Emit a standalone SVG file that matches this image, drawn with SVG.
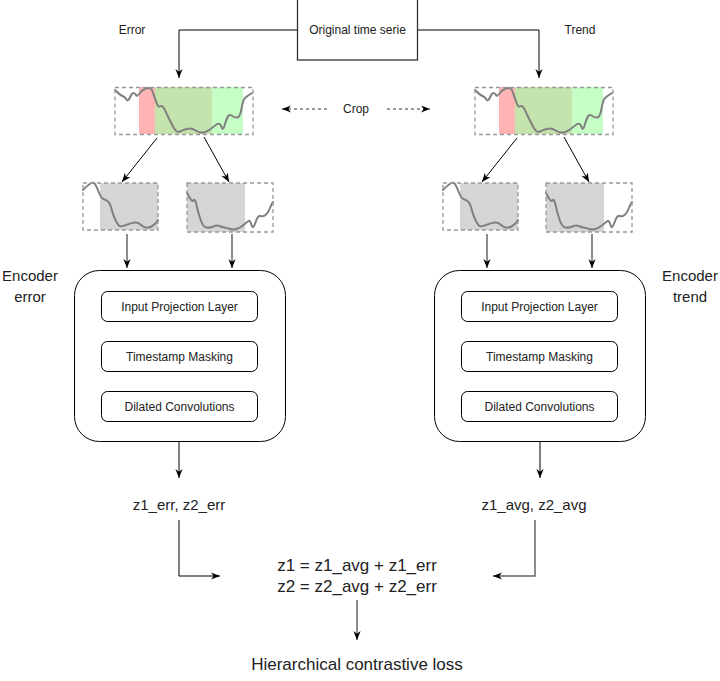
<svg xmlns="http://www.w3.org/2000/svg" xmlns:xlink="http://www.w3.org/1999/xlink" width="720" height="681" viewBox="0 0 720 681">
<style>
text{font-family:"Liberation Sans",Arial,sans-serif;fill:#222;text-anchor:middle}
.s12{font-size:12px}.s15{font-size:15px}.s17{font-size:17px}
.ln{fill:none;stroke:#000;stroke-width:1}
.gl{fill:none;stroke:#666;stroke-width:1.5}
.dash{fill:none;stroke:#333;stroke-width:1.2;stroke-dasharray:3 3}
.frame{fill:none;stroke:#999;stroke-width:1.3;stroke-dasharray:4 3}
.curve{fill:none;stroke:#808080;stroke-width:2;stroke-linejoin:round;stroke-linecap:round}
.enc{fill:#fff;stroke:#000;stroke-width:1}
.box{fill:#fff;stroke:#000;stroke-width:1}
</style>
<defs>
<marker id="arr" viewBox="0 0 10 10" refX="10" refY="5" markerWidth="9" markerHeight="9" markerUnits="userSpaceOnUse" orient="auto">
<path d="M0,1 L10,5 L0,9 L3,5 z" fill="#000"/>
</marker>
<g id="strip">
<rect x="139" y="87" width="16" height="47" fill="#ffb3b3"/>
<rect x="155" y="87" width="57" height="47" fill="#c5e3ad"/>
<rect x="212" y="87" width="31" height="47" fill="#c6ffc6"/>
<path class="curve" d="M115,90 Q120,95 122.5,96 Q125,97 126.5,99.5 Q128,102 130,97.5 Q132,93 133.5,93 Q135,93 136,95 Q137,97 139.5,93.5 Q142,90 146,88.5 Q150,87 151.5,89.5 Q153,92 155.5,100 Q158,108 160,106.5 Q162,105 163.5,107.5 Q165,110 168.5,117.5 Q172,125 174.5,129 Q177,133 180,131.5 Q183,130 186.5,129 Q190,128 192.5,129 Q195,130 197.5,131.5 Q200,133 203.5,132.5 Q207,132 210,129.5 Q213,127 216.5,124.5 Q220,122 221.5,127 Q223,132 225.5,122.5 Q228,113 231.5,115.5 Q235,118 237.5,117.5 Q240,117 241.5,108.5 Q243,100 245,98 Q247,96 252,93"/>
<rect class="frame" x="115" y="87.5" width="138" height="47"/>
</g>
<g id="thumbA">
<rect x="100" y="183" width="58" height="47" fill="#d5d5d5"/>
<path class="curve" d="M83,190 Q88,185 90.5,183.5 Q93,182 94.5,183.5 Q96,185 98.5,191.5 Q101,198 103.5,199 Q106,200 108,201.5 Q110,203 111.5,209 Q113,215 115.5,220 Q118,225 119.5,226 Q121,227 126,225 Q131,223 134.5,222.5 Q138,222 140.5,224.5 Q143,227 145.5,227.5 Q148,228 151.5,226.5 Q155,225 158,220"/>
<rect class="frame" x="83" y="183" width="75" height="47"/>
</g>
<g id="thumbB">
<rect x="187" y="183" width="58" height="49" fill="#d5d5d5"/>
<path class="curve" d="M187,193 Q192,203 193.5,200.5 Q195,198 196.5,205 Q198,212 200.5,219.5 Q203,227 206.5,227.5 Q210,228 213.5,226.5 Q217,225 219.5,226 Q222,227 224.5,227.5 Q227,228 230,229 Q233,230 236.5,229 Q240,228 243.5,225 Q247,222 248.5,221 Q250,220 251.5,225 Q253,230 255.5,222.5 Q258,215 260.5,216 Q263,217 265.5,215 Q268,213 270,208 Q272,203 273,202"/>
<rect class="frame" x="187" y="183" width="86" height="49"/>
</g>
<g id="encoderShape">
<rect class="enc" x="74.5" y="270.5" width="211" height="171" rx="25" ry="25"/>
<rect class="box" x="101.5" y="291.5" width="156" height="30" rx="6" ry="6"/>
<rect class="box" x="101.5" y="341.5" width="156" height="30" rx="6" ry="6"/>
<rect class="box" x="101.5" y="391.5" width="156" height="30" rx="6" ry="6"/>
<text class="s12" x="179.5" y="310.5">Input Projection Layer</text>
<text class="s12" x="179.5" y="360.5">Timestamp Masking</text>
<text class="s12" x="179.5" y="410.5">Dilated Convolutions</text>
</g>
</defs>

<g id="connectors">
<path class="ln" d="M297,30 H179 V78" marker-end="url(#arr)"/>
<path class="ln" d="M417,30 H539 V78" marker-end="url(#arr)"/>
<path class="ln" d="M157,138 L122,182" marker-end="url(#arr)"/>
<path class="ln" d="M204,137 L229,182" marker-end="url(#arr)"/>
<path class="ln" d="M517,138 L482,182" marker-end="url(#arr)"/>
<path class="ln" d="M564,137 L589,182" marker-end="url(#arr)"/>
<path class="gl" d="M127,234 V268" marker-end="url(#arr)"/>
<path class="gl" d="M232,234 V268" marker-end="url(#arr)"/>
<path class="gl" d="M487,234 V268" marker-end="url(#arr)"/>
<path class="gl" d="M592,234 V268" marker-end="url(#arr)"/>
<path class="dash" d="M327,109 H282" marker-end="url(#arr)"/>
<path class="dash" d="M387,109 H430" marker-end="url(#arr)"/>
<path class="ln" d="M179,441 V478" marker-end="url(#arr)"/>
<path class="ln" d="M540,441 V478" marker-end="url(#arr)"/>
<path class="ln" d="M179,520 V576 H220" marker-end="url(#arr)"/>
<path class="gl" d="M535,520 V576 H493" stroke-width="1.2" marker-end="url(#arr)"/>
<path class="gl" d="M357,600 V640" stroke-width="1.2" marker-end="url(#arr)"/>
</g>

<g id="original">
<rect x="297.5" y="-1" width="120" height="61" fill="#fff" stroke="#333" stroke-width="1.3"/>
<text class="s12" x="357.5" y="34">Original time serie</text>
</g>
<g id="label-error"><text class="s12" x="132" y="34">Error</text></g>
<g id="label-trend"><text class="s12" x="580" y="34">Trend</text></g>
<g id="label-crop"><text class="s12" x="356" y="113">Crop</text></g>

<g id="strip-error"><use xlink:href="#strip"/></g>
<g id="strip-trend"><use xlink:href="#strip" transform="translate(360,0)"/></g>
<g id="thumb-error-1"><use xlink:href="#thumbA"/></g>
<g id="thumb-error-2"><use xlink:href="#thumbB"/></g>
<g id="thumb-trend-1"><use xlink:href="#thumbA" transform="translate(360,0)"/></g>
<g id="thumb-trend-2"><use xlink:href="#thumbB" transform="translate(359,0)"/></g>

<g id="encoder-error"><use xlink:href="#encoderShape"/></g>
<g id="encoder-trend"><use xlink:href="#encoderShape" transform="translate(360,0)"/></g>

<g id="label-encoder-error">
<text class="s15" x="30" y="281">Encoder</text>
<text class="s15" x="30" y="302">error</text>
</g>
<g id="label-encoder-trend">
<text class="s15" x="690" y="281">Encoder</text>
<text class="s15" x="690" y="302">trend</text>
</g>

<g id="z-err"><text class="s15" x="179" y="510">z1_err, z2_err</text></g>
<g id="z-avg"><text class="s15" x="534" y="510">z1_avg, z2_avg</text></g>
<g id="formula">
<text class="s17" x="357" y="571">z1 = z1_avg + z1_err</text>
<text class="s17" x="357" y="592">z2 = z2_avg + z2_err</text>
</g>
<g id="loss"><text class="s17" x="357" y="670">Hierarchical contrastive loss</text></g>
</svg>
